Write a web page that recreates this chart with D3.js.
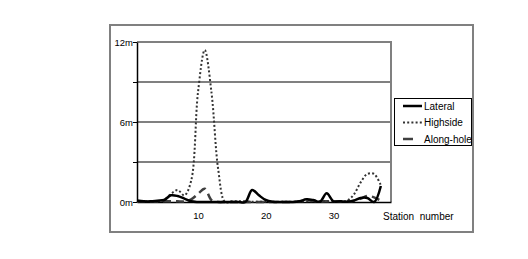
<!DOCTYPE html>
<html>
<meta charset="utf-8">
<title>Station deviations</title>
<style>
	body { margin: 0; background-color: #ffffff; }
	text { font-family: "Liberation Sans", Arial, sans-serif; fill: #000000; }
	.tick text { font-size: 9.5px; font-family: "Liberation Sans", Arial, sans-serif; }
	.legend text { font-size: 10px; }
</style>
<body>
	<div id="chart"></div>
</body>
<script src="https://d3js.org/d3.v7.min.js"></script>
<script>

	// Data (metres per station)
	var stations = d3.range(1, 38);
	var lateral = [0.12, 0.05, 0.05, 0.1, 0.15, 0.5, 0.45, 0.25, 0.05, 0, 0, 0, 0, 0, 0, 0, 0,
		0.9, 0.5, 0.15, 0.02, 0, 0, 0, 0.05, 0.2, 0.15, 0.02, 0.65, 0.05, 0.05, 0.02, 0.1, 0.3, 0.3, 0, 1.2];
	var highside = [0.05, 0.05, 0.05, 0.05, 0.15, 0.6, 0.9, 0.5, 1.6, 8.2, 11.4, 8.2, 2.4, 0, 0.05, 0.05, 0.05,
		0.02, 0.02, 0.02, 0.02, 0.02, 0.02, 0.02, 0.05, 0.05, 0.05, 0.05, 0.05, 0.05, 0.05, 0.1, 0.55, 1.45, 2.1, 2.1, 1.25];
	var alonghole = [0.05, 0.05, 0.05, 0.05, 0.05, 0.05, 0.05, 0.05, 0.2, 0.6, 1.0, 0.15, 0, 0, 0, 0, 0,
		0, 0, 0, 0, 0, 0, 0, 0.05, 0.1, 0.1, 0.05, 0.05, 0.05, 0.05, 0.05, 0.1, 0.25, 0.45, 0.35, 0.1];
	var seriesNames = ["Lateral", "Highside", "Along-hole"];
	var xTicks = [10, 20, 30];
	var yTicks = [0, 3, 6, 9, 12];
	var yLabels = [0, 6, 12];

	var svg = d3.select("#chart").append("svg")
		.attr("width", 528)
		.attr("height", 259);

	// Outer chart frame
	svg.append("rect")
		.attr("x", 110).attr("y", 25)
		.attr("width", 363).attr("height", 207)
		.attr("fill", "none")
		.attr("stroke", "#808080")
		.attr("stroke-width", 2);

	var plotLeft = 137, plotRight = 391, plotTop = 42, plotBottom = 202;

	var x = d3.scaleLinear().domain([1, 38.5]).range([plotLeft, plotRight]);
	var y = d3.scaleLinear().domain([0, 12]).range([plotBottom, plotTop]);

	// Grid lines and right border
	svg.append("g").selectAll("line")
		.data(yTicks.filter(function (d) { return d > 0; }))
		.enter().append("line")
		.attr("x1", plotLeft).attr("x2", plotRight)
		.attr("y1", function (d) { return y(d); })
		.attr("y2", function (d) { return y(d); })
		.attr("stroke", "#808080")
		.attr("stroke-width", 2);

	svg.append("line")
		.attr("x1", plotRight).attr("x2", plotRight)
		.attr("y1", plotTop - 1).attr("y2", plotBottom)
		.attr("stroke", "#808080")
		.attr("stroke-width", 2);

	// Axes
	var yAxis = d3.axisLeft(y)
		.tickValues(yTicks)
		.tickSizeInner(4).tickSizeOuter(0).tickPadding(0)
		.tickFormat(function (d) { return yLabels.indexOf(d) >= 0 ? d + "m" : ""; });

	var xAxis = d3.axisBottom(x)
		.tickValues(xTicks)
		.tickSizeInner(0).tickSizeOuter(0).tickPadding(10);

	var gy = svg.append("g").attr("transform", "translate(" + plotLeft + ",0)").call(yAxis);
	gy.select(".domain").attr("stroke", "#000").attr("stroke-width", 1.5);
	gy.selectAll(".tick line").attr("stroke", "#000");

	var gx = svg.append("g").attr("transform", "translate(0," + plotBottom + ")").call(xAxis);
	gx.select(".domain").attr("stroke", "#000").attr("stroke-width", 1.5);

	svg.append("text")
		.attr("x", 383).attr("y", 219.5)
		.style("font-size", "10px")
		.style("white-space", "pre")
		.text("Station  number");

	// Series (smoothed lines)
	var styles = [
		{ values: lateral, color: "#000000", width: 2.5, dash: null },
		{ values: highside, color: "#333333", width: 2, dash: "2 2.2" },
		{ values: alonghole, color: "#404040", width: 2.5, dash: "8 5" }
	];

	var line = d3.line()
		.curve(d3.curveCatmullRom.alpha(0.5))
		.x(function (d) { return x(d[0]); })
		.y(function (d) { return y(d[1]); });

	[2, 1, 0].forEach(function (k) {
		var s = styles[k];
		svg.append("path")
			.datum(stations.map(function (st, i) { return [st, s.values[i]]; }))
			.attr("d", line)
			.attr("fill", "none")
			.attr("stroke", s.color)
			.attr("stroke-width", s.width)
			.attr("stroke-dasharray", s.dash);
	});

	// Legend
	var legend = svg.append("g").attr("class", "legend");
	legend.append("rect")
		.attr("x", 394.5).attr("y", 98.5)
		.attr("width", 77).attr("height", 47)
		.attr("fill", "#fff")
		.attr("stroke", "#000")
		.attr("stroke-width", 1);

	var rows = [106, 122.5, 139];
	seriesNames.forEach(function (name, i) {
		legend.append("line")
			.attr("x1", 403).attr("x2", 422)
			.attr("y1", rows[i]).attr("y2", rows[i])
			.attr("stroke", styles[i].color)
			.attr("stroke-width", styles[i].width)
			.attr("stroke-dasharray", i == 2 ? "10 20" : styles[i].dash);
		legend.append("text")
			.attr("x", 424).attr("y", rows[i] + 3.5)
			.text(name);
	});

</script>
</html>
